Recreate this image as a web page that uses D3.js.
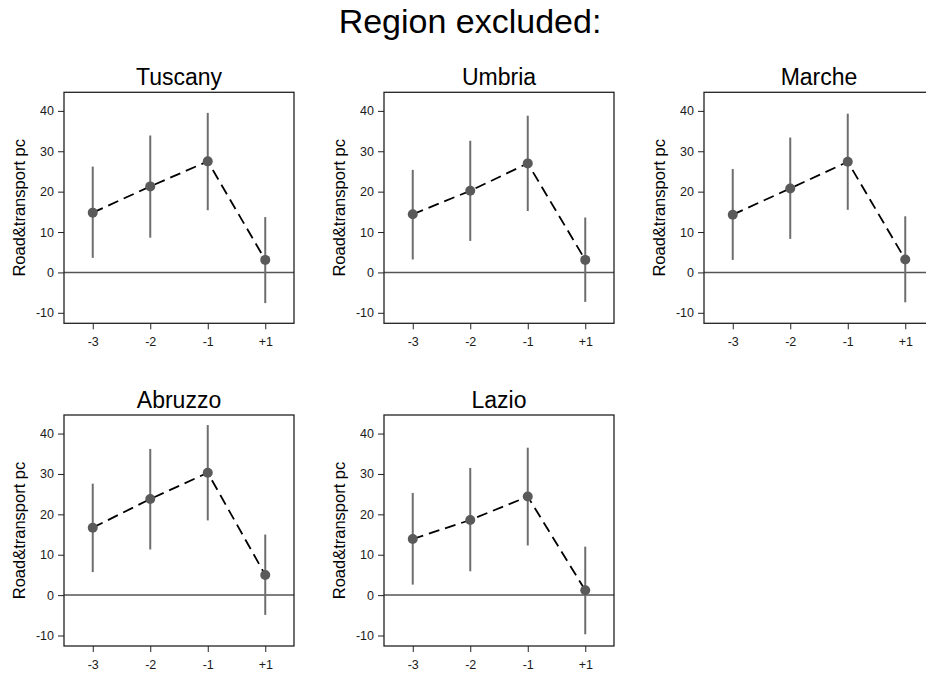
<!DOCTYPE html>
<html>
<head>
<meta charset="utf-8">
<script src="https://cdn.jsdelivr.net/npm/d3@7"></script>
<style>
  html, body { margin: 0; padding: 0; background: #fff; }
  svg { display: block; font-family: "Liberation Sans", Arial, sans-serif; }
</style>
</head>
<body>
<svg id="chart" width="926" height="675"></svg>
<script>
// Event-time categories on the x axis
const periods = ["-3", "-2", "-1", "+1"];

// Excluded regions, one panel each
const regions = ["Tuscany", "Umbria", "Marche", "Abruzzo", "Lazio"];

// Point estimates per region (same order as periods)
const estTuscany = [14.8, 21.3, 27.5, 3.1];
const estUmbria  = [14.4, 20.2, 27.0, 3.1];
const estMarche  = [14.3, 20.8, 27.4, 3.2];
const estAbruzzo = [16.7, 23.8, 30.3, 5.0];
const estLazio   = [13.9, 18.6, 24.4, 1.2];

// Lower confidence bounds
const loTuscany = [3.6, 8.6, 15.4, -7.6];
const loUmbria  = [3.2, 7.8, 15.2, -7.3];
const loMarche  = [3.1, 8.3, 15.5, -7.4];
const loAbruzzo = [5.7, 11.3, 18.5, -4.9];
const loLazio   = [2.6, 5.9, 12.3, -9.7];

// Upper confidence bounds
const hiTuscany = [26.2, 33.9, 39.5, 13.7];
const hiUmbria  = [25.4, 32.6, 38.8, 13.6];
const hiMarche  = [25.6, 33.4, 39.3, 13.9];
const hiAbruzzo = [27.6, 36.2, 42.1, 15.0];
const hiLazio   = [25.3, 31.5, 36.5, 12.0];

const yTicks = [-10, 0, 10, 20, 30, 40];

const estimates = [estTuscany, estUmbria, estMarche, estAbruzzo, estLazio];
const lowers    = [loTuscany, loUmbria, loMarche, loAbruzzo, loLazio];
const uppers    = [hiTuscany, hiUmbria, hiMarche, hiAbruzzo, hiLazio];

const svg = d3.select("#chart");

// Overall heading
svg.append("text")
  .attr("x", 470)
  .attr("y", 33)
  .attr("text-anchor", "middle")
  .attr("font-size", 34)
  .attr("fill", "#000")
  .text("Region excluded:");

// Panel layout
const cols = 3;
const boxW = 230, boxH = 231;
const originX = 64, originY = 92.3;
const stepX = 320, stepY = 322.7;

const x = d3.scalePoint().domain(periods).range([0, boxW]).padding(0.5);
const y = d3.scaleLinear().domain([-12.6, 44.6]).range([boxH, 0]);

regions.forEach((name, i) => {
  const col = i % cols, row = Math.floor(i / cols);
  const g = svg.append("g")
    .attr("transform", `translate(${originX + col * stepX},${originY + row * stepY})`);

  const rows = periods.map((p, k) => ({
    p, est: estimates[i][k], lo: lowers[i][k], hi: uppers[i][k]
  }));

  // Panel title
  g.append("text")
    .attr("x", boxW / 2)
    .attr("y", -7.5)
    .attr("text-anchor", "middle")
    .attr("font-size", 23)
    .attr("fill", "#000")
    .text(name);

  // Y axis (plain hyphen for negative labels)
  const yAxis = g.append("g")
    .call(d3.axisLeft(y).tickValues(yTicks).tickSize(6).tickPadding(4).tickFormat(d => String(d)));
  yAxis.select(".domain").remove();
  yAxis.selectAll(".tick line").attr("stroke", "#222");
  yAxis.selectAll(".tick text")
    .attr("font-size", 12.5)
    .attr("fill", "#1a1a1a")
    .attr("font-family", "Liberation Sans, Arial, sans-serif");

  // X axis
  const xAxis = g.append("g")
    .attr("transform", `translate(0,${boxH})`)
    .call(d3.axisBottom(x).tickSize(6).tickPadding(8));
  xAxis.select(".domain").remove();
  xAxis.selectAll(".tick line").attr("stroke", "#222");
  xAxis.selectAll(".tick text")
    .attr("font-size", 12.5)
    .attr("fill", "#1a1a1a")
    .attr("font-family", "Liberation Sans, Arial, sans-serif");

  // Y axis title
  g.append("text")
    .attr("transform", `translate(-39,${boxH / 2}) rotate(-90)`)
    .attr("text-anchor", "middle")
    .attr("font-size", 16.5)
    .attr("fill", "#000")
    .text("Road&transport pc");

  // Reference line at zero
  g.append("line")
    .attr("x1", 0).attr("x2", boxW)
    .attr("y1", y(0)).attr("y2", y(0))
    .attr("stroke", "#555")
    .attr("stroke-width", 1.5);

  // Confidence intervals
  g.selectAll(".ci").data(rows).join("line")
    .attr("class", "ci")
    .attr("x1", d => x(d.p)).attr("x2", d => x(d.p))
    .attr("y1", d => y(d.lo)).attr("y2", d => y(d.hi))
    .attr("stroke", "#6e6e6e")
    .attr("stroke-width", 2);

  // Dashed connecting line
  g.append("path")
    .datum(rows)
    .attr("d", d3.line().x(d => x(d.p)).y(d => y(d.est)))
    .attr("fill", "none")
    .attr("stroke", "#000")
    .attr("stroke-width", 1.8)
    .attr("stroke-dasharray", "11,6");

  // Point estimates
  g.selectAll(".pt").data(rows).join("circle")
    .attr("class", "pt")
    .attr("cx", d => x(d.p))
    .attr("cy", d => y(d.est))
    .attr("r", 5)
    .attr("fill", "#5a5a5a");

  // Plot frame
  g.append("rect")
    .attr("x", 0).attr("y", 0)
    .attr("width", boxW).attr("height", boxH)
    .attr("fill", "none")
    .attr("stroke", "#222")
    .attr("stroke-width", 1.3);
});
</script>
</body>
</html>
